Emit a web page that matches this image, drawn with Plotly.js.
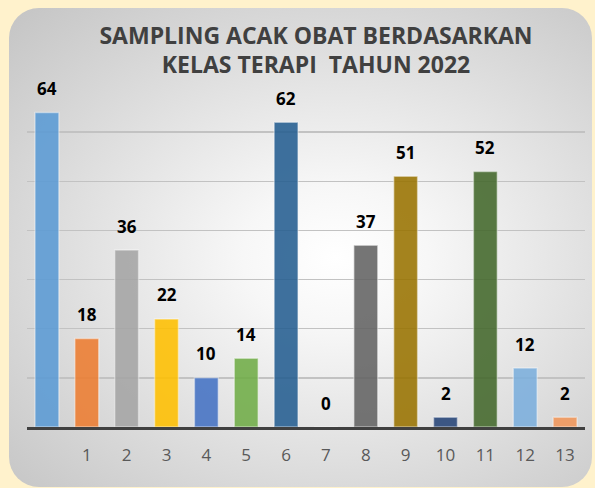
<!DOCTYPE html>
<html>
<head>
<meta charset="utf-8">
<script src="https://cdn.plot.ly/plotly-3.0.1.min.js"></script>
<style>
  html, body { margin: 0; padding: 0; background: #FFF2CC; width: 595px; height: 488px; overflow: hidden; }
  #panel { position: absolute; left: 9px; top: 8px; width: 583px; height: 479px; border-radius: 30px;
    background: radial-gradient(ellipse farthest-corner at 56% 52%, #ffffff 0%, #f7f7f7 20%, #c4c4c4 100%); }
  #chart { position: absolute; left: 0; top: 0; width: 595px; height: 488px; }
</style>
</head>
<body>
<div id="panel"></div>
<div id="chart"></div>
<script>
const categories = ["", "1", "2", "3", "4", "5", "6", "7", "8", "9", "10", "11", "12", "13"];
const values = [64, 18, 36, 22, 10, 14, 62, 0, 37, 51, 2, 52, 12, 2];
const barColors = ["#5B9BD5", "#ED7D31", "#A5A5A5", "#FFC000", "#4472C4", "#70AD47",
                   "#255E91", "#9E480E", "#636363", "#997300", "#264478", "#43682B",
                   "#7CAFDD", "#F1975A"];
const titleText = "SAMPLING ACAK OBAT BERDASARKAN<br>KELAS TERAPI\u00a0 TAHUN 2022";

const xPos = categories.map((c, i) => i);

const trace = {
  type: "bar",
  x: xPos,
  y: values,
  marker: { color: barColors, opacity: 0.88, line: { color: "rgba(255,255,255,0.45)", width: 1.5 } },
  hoverinfo: "skip"
};

const labels = values.map((v, i) => ({
  x: xPos[i], y: v, xref: "x", yref: "y",
  text: String(v), showarrow: false, yanchor: "middle", yshift: 24,
  font: { family: "Open Sans", size: 17, color: "#000000", weight: "bold" }
}));

const layout = {
  width: 595, height: 488,
  margin: { l: 27, r: 10, t: 83, b: 61 },
  paper_bgcolor: "rgba(0,0,0,0)",
  plot_bgcolor: "rgba(0,0,0,0)",
  bargap: 0.4,
  showlegend: false,
  title: {
    text: titleText,
    x: 316 / 595, xref: "container", xanchor: "center",
    y: 1 - 43.5 / 488, yref: "container", yanchor: "middle",
    font: { family: "Open Sans", size: 23, color: "#404040", weight: "bold" }
  },
  xaxis: {
    type: "linear",
    range: [-0.5, categories.length - 0.5],
    tickvals: xPos, ticktext: categories,
    showgrid: false, zeroline: false,
    showline: true, linecolor: "#404040", linewidth: 3,
    ticks: "", ticklabelstandoff: 11,
    tickfont: { family: "Open Sans", size: 17, color: "#595959" }
  },
  yaxis: {
    range: [0, 70], dtick: 10, tick0: 0,
    showgrid: true, gridcolor: "#c2c2c2", gridwidth: 1.5,
    showticklabels: false, zeroline: false, showline: false, ticks: ""
  },
  annotations: labels
};

Plotly.newPlot("chart", [trace], layout, { displayModeBar: false, staticPlot: true });
</script>
</body>
</html>
